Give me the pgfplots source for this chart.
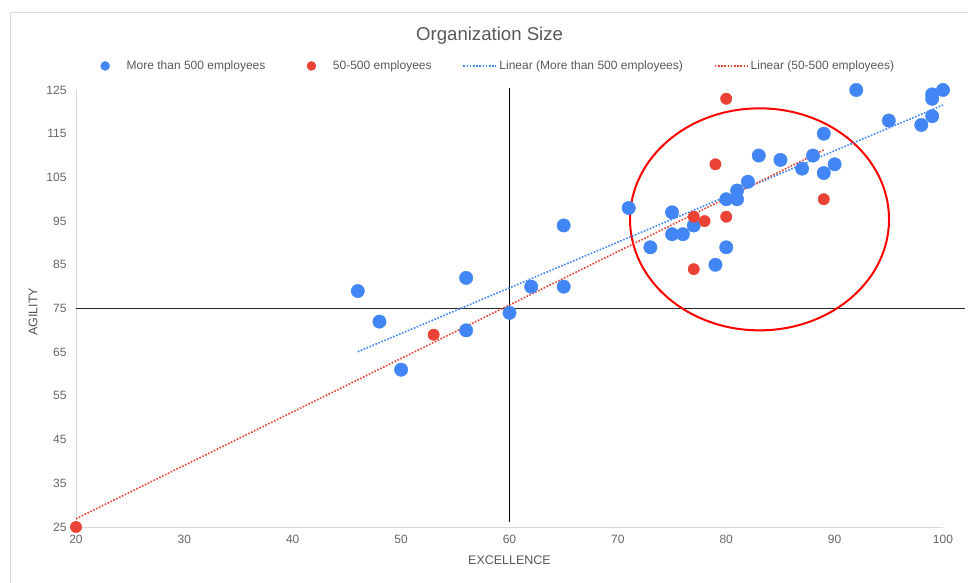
\documentclass[border=0pt]{standalone}
\usepackage{fontspec}
\setmainfont{Liberation Sans}
\usepackage{pgfplots}
\usepackage{pgfplotstable}
\pgfplotsset{compat=1.18}

\definecolor{gblue}{HTML}{4285F4}
\definecolor{gred}{HTML}{EA4335}
\definecolor{txt}{HTML}{595959}
\definecolor{ticktxt}{HTML}{666666}
\definecolor{framegray}{HTML}{D9D9D9}

\tikzset{trend/.style={line width=1.6bp, dash pattern=on 1.6bp off 1.6bp}}

% Organizations with more than 500 employees (sorted by excellence)
\pgfplotstableread{
x   y
46  79
48  72
50  61
56  82
56  70
60  74
62  80
65  80
65  94
71  98
73  89
75  97
75  92
76  92
77  94
79  85
80  100
80  89
81  100
81  102
82  104
83  110
85  109
87  107
88  110
89  115
89  106
90  108
92  125
95  118
98  117
99  119
99  123
99  124
100 125
}\largeorgs

% Organizations with 50-500 employees (sorted by excellence)
\pgfplotstableread{
x   y
20  25
53  69
77  96
77  84
78  95
79  108
80  123
80  96
89  100
}\midorgs

\begin{document}
\begin{tikzpicture}
\useasboundingbox (0,0) rectangle (968bp,583bp);
\fill[white] (0,0) rectangle (968bp,583bp);
\draw[framegray, line width=1bp] (10bp,0) -- (10bp,570.5bp) -- (968bp,570.5bp);
\begin{axis}[
  at={(76bp,56bp)}, anchor=south west,
  scale only axis, width=867bp, height=437bp,
  xmin=20, xmax=100, ymin=25, ymax=125,
  axis lines*=left,
  axis line style={draw=framegray, line width=1bp, -},
  xtick={20,30,...,100}, ytick={25,35,...,125},
  major tick length=0pt,
  tick label style={font=\fontsize{12bp}{14bp}\selectfont, text=ticktxt},
  /pgf/number format/assume math mode=true,
  xticklabel style={yshift=-5bp},
  yticklabel style={xshift=-6bp},
  clip=false,
  title={Organization Size},
  title style={at={(axis description cs:0.477,1.1097)}, anchor=center,
    font=\fontsize{18.6bp}{22bp}\selectfont, text=txt},
  xlabel={EXCELLENCE},
  xlabel style={at={(axis description cs:0.5,-0.0755)}, anchor=center,
    font=\fontsize{12.5bp}{15bp}\selectfont, text=txt},
  ylabel={AGILITY},
  ylabel style={at={(axis description cs:-0.0496,0.492)}, anchor=center,
    font=\fontsize{12.5bp}{15bp}\selectfont, text=txt},
  legend columns=4,
  legend style={draw=none, fill=none, inner sep=0pt,
    at={(axis description cs:0.01615,1.055)}, anchor=west,
    font=\fontsize{12bp}{14bp}\selectfont, text=txt,
    nodes={inner sep=0pt}, column sep=0pt,
    /tikz/every even column/.append style={column sep=31bp}},
]
% quadrant guide lines and highlighted cluster
\addplot[black, line width=1.2bp, forget plot] coordinates {(60,26.1) (60,125.5)};
\addplot[black!85, line width=1.2bp, forget plot] coordinates {(20,75) (102,75)};
\draw[red, line width=2bp] (axis cs:83.07,95.4) ellipse [x radius=11.95, y radius=25.4];

\addplot[only marks, mark=*, mark size=6.7bp, gblue,
  mark options={draw=none, fill=gblue},
  legend image code/.code={\path[draw=none, fill=none] (-15bp,-4.5bp) rectangle (21.5bp,4.5bp);
    \fill[gblue] (0,0) circle (4.5bp);}]
  table[x=x, y=y] {\largeorgs};
\addlegendentry{More than 500 employees}

\addplot[only marks, mark=*, mark size=5.7bp, gred,
  mark options={draw=none, fill=gred},
  legend image code/.code={\path[draw=none, fill=none] (-15bp,-4.5bp) rectangle (21.5bp,4.5bp);
    \fill[gred] (0,0) circle (4.5bp);}]
  table[x=x, y=y] {\midorgs};
\addlegendentry{50-500 employees}

\addplot[gblue, trend, no marks,
  legend image code/.code={\path[draw=none, fill=none] (0,-4.5bp) rectangle (36bp,4.5bp);
    \draw[gblue, trend] (0,0) -- (33bp,0);}]
  table[x=x, y={create col/linear regression={y=y}}] {\largeorgs};
\addlegendentry{Linear (More than 500 employees)}

\addplot[gred, trend, no marks,
  legend image code/.code={\path[draw=none, fill=none] (0,-4.5bp) rectangle (36bp,4.5bp);
    \draw[gred, trend] (0,0) -- (33bp,0);}]
  table[x=x, y={create col/linear regression={y=y}}] {\midorgs};
\addlegendentry{Linear (50-500 employees)}
\end{axis}
\end{tikzpicture}
\end{document}
